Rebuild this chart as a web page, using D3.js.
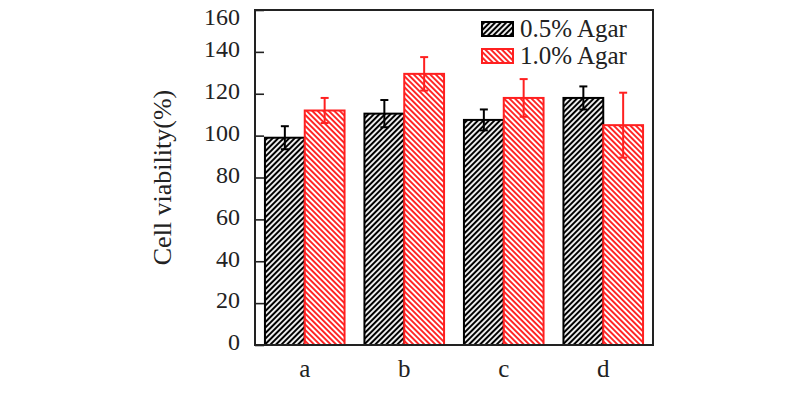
<!DOCTYPE html>
<html>
<head>
<meta charset="utf-8">
<script src="https://cdn.jsdelivr.net/npm/d3@7"></script>
<style>
  body { margin: 0; background: #fff; }
  svg { display: block; font-family: 'Liberation Serif', 'Times New Roman', serif; }
</style>
</head>
<body>
<svg id="chart"></svg>
<script>
const width = 800, height = 393;

// data
const groups = ['a', 'b', 'c', 'd'];
const seriesNames = ['0.5% Agar', '1.0% Agar'];
const agar05 = [99, 110.5, 107.5, 118];
const agar05Err = [5.5, 6.5, 5, 5.5];
const agar10 = [112, 129.5, 118, 105];
const agar10Err = [6, 8, 9, 15.5];
const yTicks = [0, 20, 40, 60, 80, 100, 120, 140, 160];

const colors = ['#000000', '#ff2020'];
const plot = { left: 255, right: 653, top: 10, bottom: 345 };

const svg = d3.select('#chart')
  .attr('width', width)
  .attr('height', height)
  .attr('viewBox', `0 0 ${width} ${height}`);

const defs = svg.append('defs');

// hatch patterns: black '///', red '\\\'
const hatchStep = 3.9;
const addHatch = (id, color, dir, lw) => {
  const p = defs.append('pattern')
    .attr('id', id)
    .attr('patternUnits', 'userSpaceOnUse')
    .attr('width', hatchStep)
    .attr('height', hatchStep)
    .attr('patternTransform', `rotate(${dir * 45})`);
  p.append('rect').attr('width', hatchStep).attr('height', hatchStep).attr('fill', '#fff');
  p.append('line')
    .attr('x1', hatchStep / 2).attr('y1', -1).attr('x2', hatchStep / 2).attr('y2', hatchStep + 1)
    .attr('stroke', color)
    .attr('stroke-width', lw);
};
addHatch('hatch0', colors[0], 1, 2.1);
addHatch('hatch1', colors[1], -1, 1.9);

const x = d3.scaleBand().domain(groups).range([plot.left, plot.right]).padding(0);
const y = d3.scaleLinear().domain([0, 160]).range([plot.bottom, plot.top]);

const barW = x.bandwidth() * 0.4;

const series = [
  { name: seriesNames[0], values: agar05, errs: agar05Err },
  { name: seriesNames[1], values: agar10, errs: agar10Err }
];

// Bars
series.forEach((s, si) => {
  const g = svg.append('g').attr('class', 'series' + si);
  const rows = groups.map((k, i) => ({ k, v: s.values[i], e: s.errs[i] }));
  const bx = d => x(d.k) + x.bandwidth() / 2 + (si === 0 ? -barW : 0);

  g.selectAll('rect')
    .data(rows)
    .enter()
    .append('rect')
    .attr('x', bx)
    .attr('y', d => y(d.v))
    .attr('width', barW)
    .attr('height', d => y(0) - y(d.v))
    .attr('fill', `url(#hatch${si})`)
    .attr('stroke', colors[si])
    .attr('stroke-width', 2);

  // error bars
  const eb = g.selectAll('.err')
    .data(rows)
    .enter()
    .append('g')
    .attr('class', 'err')
    .attr('stroke', colors[si])
    .attr('stroke-width', 2);
  eb.append('line')
    .attr('x1', d => bx(d) + barW / 2).attr('x2', d => bx(d) + barW / 2)
    .attr('y1', d => y(d.v - d.e)).attr('y2', d => y(d.v + d.e));
  eb.append('line')
    .attr('x1', d => bx(d) + barW / 2 - 4).attr('x2', d => bx(d) + barW / 2 + 4)
    .attr('y1', d => y(d.v + d.e)).attr('y2', d => y(d.v + d.e));
  eb.append('line')
    .attr('x1', d => bx(d) + barW / 2 - 4).attr('x2', d => bx(d) + barW / 2 + 4)
    .attr('y1', d => y(d.v - d.e)).attr('y2', d => y(d.v - d.e));
});

// Frame
svg.append('rect')
  .attr('x', plot.left)
  .attr('y', plot.top)
  .attr('width', plot.right - plot.left)
  .attr('height', plot.bottom - plot.top)
  .attr('fill', 'none')
  .attr('stroke', '#222')
  .attr('stroke-width', 2);

// Y axis, ticks pointing inward
const yAxis = svg.append('g')
  .attr('transform', `translate(${plot.left},0)`)
  .call(d3.axisLeft(y).tickValues(yTicks).tickSizeInner(-9).tickSizeOuter(0).tickPadding(15));
yAxis.select('.domain').remove();
yAxis.selectAll('.tick line').attr('stroke', '#222').attr('stroke-width', 1.6);
yAxis.selectAll('.tick text')
  .attr('font-size', 24)
  .attr('dy', d => d === 160 ? '0.62em' : '0.2em')
  .attr('fill', '#222')
  .attr('font-family', "'Liberation Serif', serif");

// X axis labels
const xAxis = svg.append('g')
  .attr('transform', `translate(0,${plot.bottom})`)
  .call(d3.axisBottom(x).tickSize(0).tickPadding(14));
xAxis.select('.domain').remove();
xAxis.selectAll('.tick text')
  .attr('font-size', 25)
  .attr('fill', '#222')
  .attr('font-family', "'Liberation Serif', serif");

// Y label
svg.append('text')
  .attr('transform', `translate(171,${(plot.top + plot.bottom) / 2}) rotate(-90)`)
  .attr('text-anchor', 'middle')
  .attr('font-size', 26)
  .attr('fill', '#222')
  .text('Cell viability(%)');

// Legend
const legend = svg.append('g');
seriesNames.forEach((n, i) => {
  const row = legend.append('g').attr('transform', `translate(482,${22 + i * 27})`);
  row.append('rect')
    .attr('width', 31)
    .attr('height', 14)
    .attr('fill', `url(#hatch${i})`)
    .attr('stroke', colors[i])
    .attr('stroke-width', 2);
  row.append('text')
    .attr('x', 38)
    .attr('y', 15)
    .attr('font-size', 25)
    .attr('fill', '#222')
    .text(n);
});
</script>
</body>
</html>
